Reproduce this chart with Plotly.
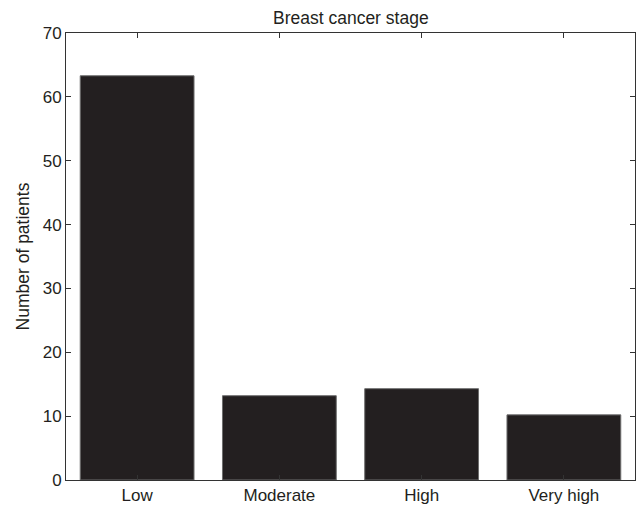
import plotly.graph_objects as go

# Patients per breast cancer stage
stages = ["Low", "Moderate", "High", "Very high"]
patients = [63.3, 13.2, 14.3, 10.2]
y_ticks = [0, 10, 20, 30, 40, 50, 60, 70]

positions = list(range(1, len(stages) + 1))

fig = go.Figure(
    go.Bar(
        x=positions,
        y=patients,
        width=0.8,
        marker=dict(color="#231f20", line=dict(color="#6e6e6e", width=1)),
    )
)

font_family = "Liberation Sans, Arial, Helvetica, sans-serif"
axis_color = "#333333"

fig.update_layout(
    width=639,
    height=506,
    margin=dict(l=66, r=4, t=33, b=26),
    paper_bgcolor="white",
    plot_bgcolor="white",
    showlegend=False,
    font=dict(family=font_family, size=17, color="#231f20"),
    title=dict(
        text="Breast cancer stage",
        x=0.549,
        xanchor="center",
        y=0.964,
        yanchor="middle",
        font=dict(size=17.5, family=font_family, color="#231f20"),
    ),
)

fig.update_xaxes(
    range=[0.5, 4.5],
    tickmode="array",
    tickvals=positions,
    ticktext=stages,
    ticks="inside",
    ticklen=5,
    tickcolor=axis_color,
    showline=True,
    linecolor=axis_color,
    linewidth=1,
    mirror="ticks",
    showgrid=False,
    zeroline=False,
    automargin=False,
    tickfont=dict(size=17),
)

fig.update_yaxes(
    range=[0, 70],
    tickmode="array",
    tickvals=y_ticks,
    ticks="inside",
    ticklen=5,
    tickcolor=axis_color,
    showline=True,
    linecolor=axis_color,
    linewidth=1,
    mirror="ticks",
    showgrid=False,
    zeroline=False,
    automargin=False,
    tickfont=dict(size=17),
    title=dict(text="Number of patients", font=dict(size=17.5), standoff=8),
)

fig.write_html("out.html")
